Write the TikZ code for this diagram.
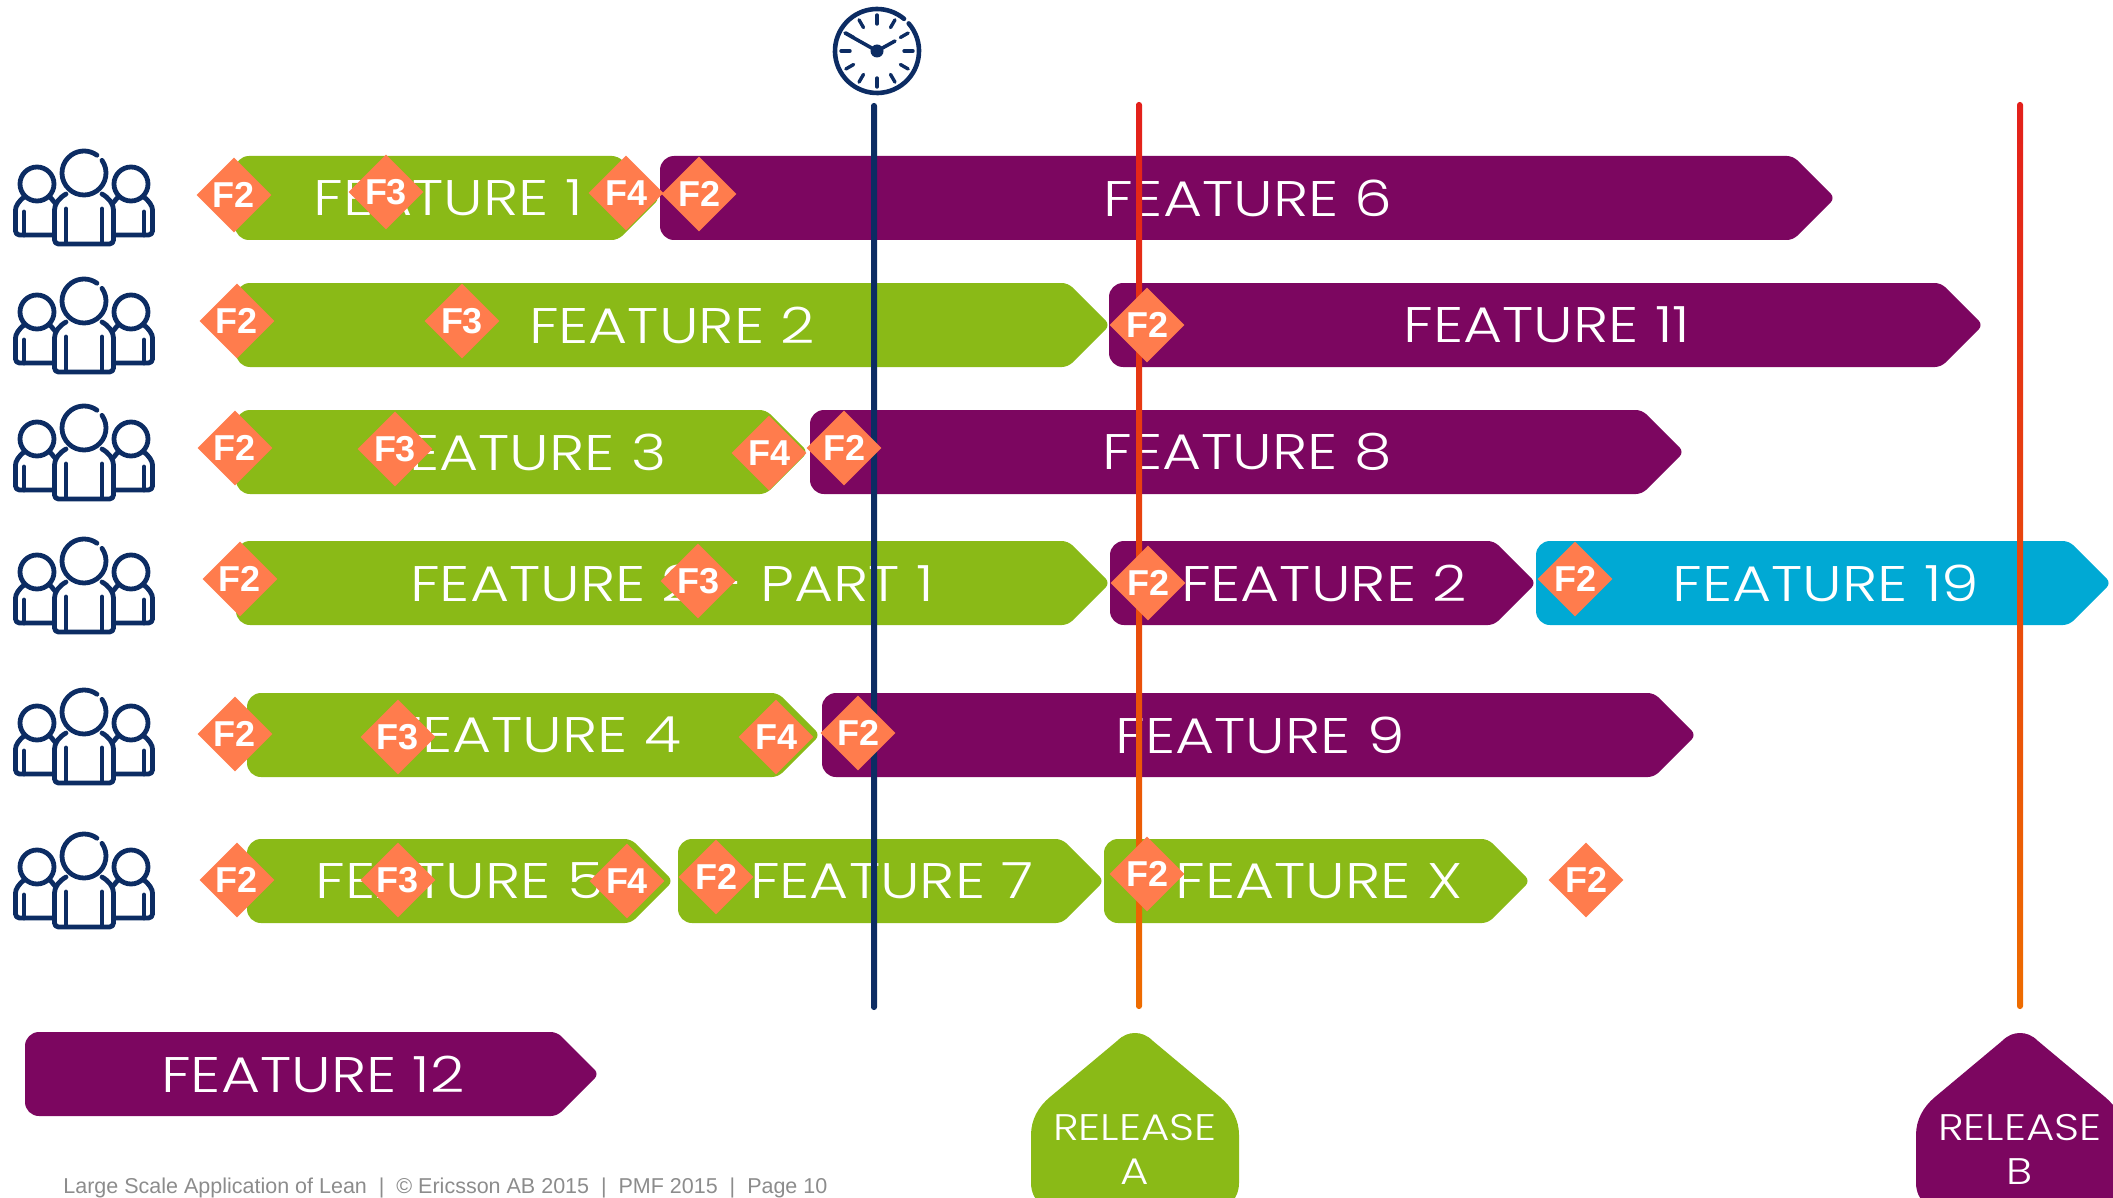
\documentclass[tikz,border=0pt]{standalone}
\usepackage{fontspec}
\setmainfont{Liberation Sans}
\newfontfamily\barfont[FakeStretch=1.2]{Poppins Light}
\newfontfamily\relfont[FakeStretch=1.18]{Poppins Light}
\usetikzlibrary{shapes.geometric}
\definecolor{leangreen}{HTML}{8ABA17}
\definecolor{leanpurple}{HTML}{7C0660}
\definecolor{leanblue}{HTML}{00A9D4}
\definecolor{leanorange}{HTML}{FF7C4D}
\definecolor{leannavy}{HTML}{0C2C63}
\definecolor{leanred}{HTML}{E3201B}
\definecolor{leanamber}{HTML}{EE6C00}
\tikzset{
  barlabel/.style={text=white, font=\barfont\fontsize{25}{30}\selectfont, inner sep=0pt},
  relabel/.style={text=white, font=\relfont\fontsize{18.5}{22}\selectfont, inner sep=0pt, align=center},
  flag/.style={diamond, aspect=1, fill=leanorange, text=white, inner sep=0pt,
    minimum width=37.5pt, minimum height=37.5pt, font=\bfseries\fontsize{18}{18}\selectfont},
  team/.pic={
    \begin{scope}[draw=leannavy, line width=2.4pt, line cap=round, line join=round]
      % cabeza central, con hueco arriba a la derecha
      \draw (0,0) ++(-35:22) arc[start angle=-35, end angle=306, radius=22];
      % cuerpo central
      \draw[rounded corners=2pt] (-18,21) .. controls (-25,25) and (-29.5,31) .. (-29.5,41)
        -- (-29.5,71) -- (29.5,71) -- (29.5,41) .. controls (29.5,31) and (25,25) .. (18,21);
      \draw (-18,36) -- (-18,70);
      \draw (18,36) -- (18,70);
      % cabezas laterales
      \draw (-47,11) circle[radius=17];
      \draw (47,11) circle[radius=17];
      % cuerpos laterales
      \draw[rounded corners=2pt] (-60,24) .. controls (-65,28) and (-68.5,33) .. (-68.5,41)
        -- (-68.5,62) -- (-30,62);
      \draw[rounded corners=2pt] (60,24) .. controls (65,28) and (68.5,33) .. (68.5,41)
        -- (68.5,62) -- (30,62);
      \draw (-34,24) -- (-29,30);
      \draw (34,24) -- (29,30);
      \draw (-60,39) -- (-60,62);
      \draw (60,39) -- (60,62);
    \end{scope}
  }
}
\begin{document}
\begin{tikzpicture}[x=0.5pt, y=-0.5pt]
  \path[use as bounding box, clip] (0,0) rectangle (2113,1198);

  % Barras: inicio / punta / centro y / color / centro texto / texto
  \foreach \xs/\xe/\cy/\col/\tx/\lab [count=\i] in {
      235/658/198/leangreen/448/FEATURE 1,
      660/1833/198/leanpurple/1248/FEATURE 6,
      236/1108/325/leangreen/672/FEATURE 2,
      1109/1981/325/leanpurple/1547/FEATURE 11,
      236/806/452/leangreen/523/FEATURE 3,
      810/1682/452/leanpurple/1247/FEATURE 8,
      236/1108/583/leangreen/672/FEATURE 2 - PART 1,
      1110/1534/583/leanpurple/1324/FEATURE 2,
      1536/2109/583/leanblue/1826/FEATURE 19,
      247/818/735/leangreen/537/FEATURE 4,
      822/1694/735/leanpurple/1260/FEATURE 9,
      247/671/881/leangreen/460/FEATURE 5,
      678/1102/881/leangreen/892/FEATURE 7,
      1104/1528/881/leangreen/1319/FEATURE X,
      25/597/1074/leanpurple/313/FEATURE 12} {
    \fill[\col] [rounded corners=7pt] (\xs,\cy-42) [rounded corners=3pt] -- (\xe-40,\cy-42)
      -- (\xe+2,\cy) -- (\xe-40,\cy+42) [rounded corners=7pt] -- (\xs,\cy+42) -- cycle;
    \node[barlabel] (bar\i) at (\tx,\cy) {\lab};
  }

  % Lanzamientos
  \foreach \cx/\col/\name/\lab in {1135/leangreen/relA/A, 2020/leanpurple/relB/B} {
    \fill[\col] (\cx-104,1135) .. controls (\cx-104,1120) and (\cx-97,1107) .. (\cx-85,1097)
      -- (\cx-18,1041) .. controls (\cx-12,1035) and (\cx-6,1033) .. (\cx,1033)
      .. controls (\cx+6,1033) and (\cx+12,1035) .. (\cx+18,1041)
      -- (\cx+85,1097) .. controls (\cx+97,1107) and (\cx+104,1120) .. (\cx+104,1135)
      [rounded corners=15pt] -- (\cx+104,1213) -- (\cx-104,1213) -- (\cx-104,1135);
    \node[relabel] (\name a) at (\cx,1128) {RELEASE};
    \node[relabel] (\name b) at (\cx,1172) {\lab};
  }

  % Lineas verticales
  \fill[leannavy, rounded corners=1.4pt] (871,103) rectangle (877,1010);
  \foreach \x in {1139,2020} {
    \shade[top color=leanred, bottom color=leanamber, rounded corners=1.4pt]
      (\x-3,102) rectangle (\x+3,1009);
  }

  % Reloj
  \begin{scope}[shift={(877,51)}, draw=leannavy, line cap=round]
    \draw[line width=2.3pt] (-41:42) arc[start angle=-41, end angle=310, radius=42];
    \foreach \a in {0,30,...,330} {
      \draw[line width=1.7pt] (\a:27) -- (\a:36);
    }
    \draw[line width=1.8pt] (0,0) -- (-32,-18);
    \draw[line width=1.8pt] (0,0) -- (18,-10);
    \fill[leannavy] (0,0) circle[radius=6.5];
  \end{scope}

  % Equipos
  \foreach \y [count=\i] in {173,301,428,561,712,856} {
    \pic (equipo\i) at (84,\y) {team};
  }

  % Rombos
  \foreach \x/\y/\lab [count=\i] in {
      234/195/F2, 386/192/F3, 626/193/F4, 699/194/F2,
      237/321/F2, 462/321/F3, 1147/325/F2,
      235/448/F2, 395/449/F3, 769/453/F4, 844/448/F2,
      240/579/F2, 698/581/F3, 1148/583/F2, 1575/579/F2,
      235/734/F2, 398/737/F3, 776/737/F4, 858/733/F2,
      237/880/F2, 398/880/F3, 627/881/F4, 716/877/F2, 1147/874/F2, 1586/880/F2} {
    \node[flag] (flag\i) at (\x,\y) {\lab};
  }

  % Pie
  \node[anchor=west, inner sep=0pt, text=black!45, font=\fontsize{10.75}{13}\selectfont] (pie) at (63,1188)
    {Large Scale Application of Lean\ \ |\ \ © Ericsson AB 2015\ \ |\ \ PMF 2015\ \ |\ \ Page 10};
\end{tikzpicture}
\end{document}
